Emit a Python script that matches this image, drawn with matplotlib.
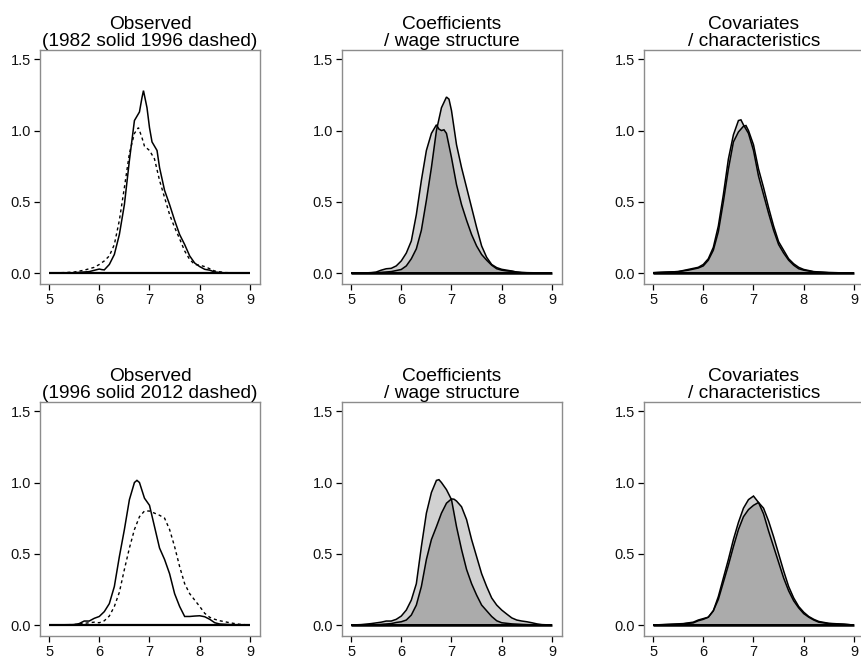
import numpy as np
import matplotlib
matplotlib.use('Agg')
import matplotlib.pyplot as plt

plt.rcParams['font.family'] = ['Liberation Sans', 'DejaVu Sans']

# --- data (log wage densities) ---
# row 1 : 1982 -> 1996
obs82_x = [5.0, 5.5, 5.8, 6.0, 6.05, 6.1, 6.2, 6.3, 6.4, 6.5, 6.6, 6.7, 6.75, 6.8, 6.85, 6.88, 6.95,
           7.0, 7.05, 7.1, 7.15, 7.2, 7.3, 7.4, 7.5, 7.6, 7.7, 7.8, 7.9, 8.0, 8.1, 8.2, 8.3, 8.5, 9.0]
obs82_y = [0, 0.002, 0.01, 0.028, 0.024, 0.022, 0.06, 0.13, 0.27, 0.48, 0.79, 1.07, 1.1, 1.13, 1.23, 1.28, 1.16,
           1.02, 0.92, 0.89, 0.86, 0.74, 0.58, 0.48, 0.37, 0.27, 0.20, 0.12, 0.07, 0.045, 0.026, 0.02, 0.007, 0.001, 0]
obs96a_x = [5.0, 5.3, 5.5, 5.7, 5.9, 6.0, 6.1, 6.2, 6.3, 6.4, 6.5, 6.6, 6.7, 6.78, 6.85, 6.9, 7.0, 7.1,
            7.2, 7.3, 7.4, 7.5, 7.6, 7.7, 7.8, 7.9, 8.0, 8.1, 8.2, 8.3, 8.5, 9.0]
obs96a_y = [0, 0.003, 0.007, 0.02, 0.04, 0.06, 0.085, 0.12, 0.2, 0.37, 0.6, 0.84, 0.98, 1.02, 0.95, 0.89, 0.86, 0.8,
            0.65, 0.53, 0.41, 0.32, 0.24, 0.155, 0.095, 0.06, 0.055, 0.045, 0.03, 0.014, 0.003, 0]

coef1a_x = [5.0, 5.3, 5.4, 5.5, 5.6, 5.7, 5.8, 5.9, 6.0, 6.1, 6.2, 6.3, 6.4, 6.5, 6.6, 6.7, 6.75, 6.8, 6.85,
            6.9, 7.0, 7.1, 7.2, 7.3, 7.4, 7.5, 7.6, 7.7, 7.8, 7.9, 8.0, 8.1, 8.2, 8.4, 9.0]
coef1a_y = [0, 0.001, 0.003, 0.007, 0.02, 0.03, 0.033, 0.05, 0.085, 0.14, 0.225, 0.41, 0.65, 0.86, 0.98, 1.04, 1.01, 1.0, 1.005,
            0.98, 0.81, 0.62, 0.48, 0.37, 0.27, 0.19, 0.13, 0.09, 0.055, 0.03, 0.02, 0.015, 0.012, 0.003, 0]
coef1b_x = [5.0, 5.5, 5.8, 6.0, 6.1, 6.2, 6.3, 6.4, 6.5, 6.6, 6.7, 6.8, 6.9, 6.95, 7.0, 7.1, 7.2, 7.3,
            7.4, 7.5, 7.6, 7.7, 7.8, 7.9, 8.0, 8.1, 8.2, 8.3, 8.5, 9.0]
coef1b_y = [0, 0.002, 0.01, 0.025, 0.05, 0.1, 0.17, 0.3, 0.51, 0.74, 1.0, 1.16, 1.235, 1.22, 1.14, 0.9, 0.74, 0.6,
            0.46, 0.32, 0.19, 0.11, 0.06, 0.038, 0.026, 0.02, 0.014, 0.006, 0.002, 0]

cov1a_x = [5.0, 5.1, 5.5, 5.7, 5.9, 6.0, 6.1, 6.2, 6.3, 6.4, 6.5, 6.6, 6.7, 6.75, 6.8, 6.9, 7.0, 7.1, 7.2,
           7.3, 7.4, 7.5, 7.6, 7.7, 7.8, 7.9, 8.0, 8.2, 8.5, 9.0]
cov1a_y = [0.002, 0.004, 0.01, 0.025, 0.04, 0.06, 0.1, 0.18, 0.33, 0.55, 0.8, 0.97, 1.07, 1.075, 1.04, 0.98, 0.86, 0.68, 0.55,
           0.42, 0.3, 0.2, 0.14, 0.09, 0.055, 0.03, 0.02, 0.008, 0.003, 0]
cov1b_x = [5.0, 5.5, 5.7, 5.9, 6.0, 6.1, 6.2, 6.3, 6.4, 6.5, 6.6, 6.7, 6.8, 6.85, 6.9, 7.0, 7.1, 7.2, 7.3,
           7.4, 7.5, 7.6, 7.7, 7.8, 7.9, 8.0, 8.2, 8.5, 9.0]
cov1b_y = [0.002, 0.01, 0.02, 0.035, 0.05, 0.09, 0.16, 0.29, 0.5, 0.73, 0.92, 0.99, 1.03, 1.035, 1.0, 0.9, 0.73, 0.6, 0.46,
           0.33, 0.22, 0.16, 0.1, 0.065, 0.04, 0.025, 0.01, 0.003, 0]

# row 2 : 1996 -> 2012
obs96b_x = [5.0, 5.5, 5.6, 5.7, 5.8, 5.9, 6.0, 6.1, 6.2, 6.3, 6.4, 6.5, 6.6, 6.7, 6.75, 6.8, 6.9, 7.0, 7.1,
            7.2, 7.3, 7.4, 7.5, 7.6, 7.7, 7.8, 7.9, 8.0, 8.1, 8.2, 8.3, 8.4, 8.6, 9.0]
obs96b_y = [0, 0.003, 0.01, 0.028, 0.028, 0.047, 0.06, 0.094, 0.15, 0.27, 0.48, 0.67, 0.88, 1.0, 1.015, 1.0, 0.89, 0.84, 0.69,
            0.54, 0.46, 0.36, 0.22, 0.13, 0.06, 0.06, 0.063, 0.065, 0.058, 0.04, 0.016, 0.007, 0.003, 0]
obs12_x = [5.0, 5.5, 5.7, 5.9, 6.0, 6.1, 6.2, 6.3, 6.4, 6.5, 6.6, 6.7, 6.8, 6.9, 7.0, 7.1, 7.2, 7.3, 7.4,
           7.5, 7.6, 7.7, 7.8, 7.9, 8.0, 8.1, 8.2, 8.3, 8.4, 8.5, 8.6, 8.7, 8.8, 9.0]
obs12_y = [0, 0.003, 0.012, 0.02, 0.016, 0.03, 0.063, 0.13, 0.23, 0.39, 0.54, 0.67, 0.76, 0.8, 0.8, 0.785, 0.77, 0.75, 0.67,
           0.55, 0.41, 0.29, 0.22, 0.175, 0.13, 0.082, 0.054, 0.04, 0.03, 0.023, 0.016, 0.01, 0.005, 0]

coef2a_x = [5.0, 5.2, 5.4, 5.6, 5.7, 5.8, 5.9, 6.0, 6.1, 6.2, 6.3, 6.4, 6.5, 6.6, 6.7, 6.75, 6.8, 6.9, 7.0,
            7.1, 7.2, 7.3, 7.4, 7.5, 7.6, 7.7, 7.8, 7.9, 8.0, 8.2, 8.5, 9.0]
coef2a_y = [0, 0.003, 0.01, 0.02, 0.028, 0.028, 0.04, 0.063, 0.105, 0.175, 0.29, 0.55, 0.785, 0.93, 1.015, 1.02, 1.0, 0.95, 0.88,
            0.69, 0.53, 0.39, 0.29, 0.21, 0.14, 0.1, 0.06, 0.03, 0.016, 0.008, 0.003, 0]
coef2b_x = [5.0, 5.5, 5.8, 5.9, 6.0, 6.1, 6.2, 6.3, 6.4, 6.5, 6.6, 6.7, 6.8, 6.9, 7.0, 7.05, 7.1, 7.2, 7.3,
            7.4, 7.5, 7.6, 7.7, 7.8, 7.9, 8.0, 8.1, 8.2, 8.3, 8.4, 8.5, 8.6, 8.7, 8.8, 9.0]
coef2b_y = [0, 0.002, 0.01, 0.018, 0.023, 0.035, 0.07, 0.14, 0.27, 0.46, 0.6, 0.69, 0.785, 0.855, 0.885, 0.883, 0.87, 0.83, 0.74,
            0.6, 0.48, 0.36, 0.27, 0.19, 0.14, 0.105, 0.077, 0.05, 0.035, 0.028, 0.023, 0.016, 0.008, 0.003, 0]

cov2a_x = [5.0, 5.3, 5.6, 5.8, 5.9, 6.0, 6.1, 6.2, 6.3, 6.4, 6.5, 6.6, 6.7, 6.8, 6.9, 7.0, 7.1, 7.2, 7.3,
           7.4, 7.5, 7.6, 7.7, 7.8, 7.9, 8.0, 8.1, 8.2, 8.3, 8.5, 8.8, 9.0]
cov2a_y = [0, 0.005, 0.01, 0.02, 0.035, 0.045, 0.055, 0.1, 0.2, 0.33, 0.46, 0.6, 0.72, 0.82, 0.88, 0.905, 0.86, 0.78, 0.66,
           0.55, 0.44, 0.33, 0.24, 0.17, 0.12, 0.08, 0.055, 0.035, 0.02, 0.01, 0.005, 0]
cov2b_x = [5.0, 5.5, 5.8, 5.9, 6.0, 6.1, 6.2, 6.3, 6.4, 6.5, 6.6, 6.7, 6.8, 6.9, 7.0, 7.1, 7.2, 7.3, 7.4,
           7.5, 7.6, 7.7, 7.8, 7.9, 8.0, 8.1, 8.2, 8.3, 8.5, 8.8, 9.0]
cov2b_y = [0, 0.005, 0.015, 0.03, 0.04, 0.055, 0.1, 0.18, 0.3, 0.42, 0.55, 0.67, 0.76, 0.81, 0.84, 0.86, 0.82, 0.73, 0.62,
           0.5, 0.38, 0.27, 0.19, 0.13, 0.09, 0.06, 0.04, 0.025, 0.012, 0.006, 0]

titles_top = ['Observed\n(1982 solid 1996 dashed)', 'Coefficients\n/ wage structure', 'Covariates\n/ characteristics']
titles_bot = ['Observed\n(1996 solid 2012 dashed)', 'Coefficients\n/ wage structure', 'Covariates\n/ characteristics']
xticks = [5, 6, 7, 8, 9]
yticks = [0.0, 0.5, 1.0, 1.5]

W, H = 861, 662
fig = plt.figure(figsize=(W / 100, H / 100), dpi=100)

lefts = [40, 342, 644]
tops = [50, 402]
pw, ph = 220, 234


def setup(ax, title):
    ax.set_xlim(4.82, 9.2)
    ax.set_ylim(-0.077, 1.565)
    ax.set_xticks(xticks)
    ax.set_yticks(yticks)
    ax.set_yticklabels(['%.1f' % v for v in yticks])
    for s in ax.spines.values():
        s.set_color('#8c8c8c')
        s.set_linewidth(1.0)
    ax.tick_params(direction='out', length=4.5, width=0.9, color='black',
                   labelsize=10.5, pad=2, labelcolor='#111111')
    ax.set_title(title, fontsize=13.8, pad=2, linespacing=1.0)


def observed(ax, xs, ys, xd, yd):
    ax.fill(xd, yd, facecolor='none', edgecolor='black', lw=1.0, linestyle=(0, (2.2, 2.2)))
    ax.fill(xs, ys, facecolor='none', edgecolor='black', lw=1.1)
    ax.plot([5, 9], [0, 0], color='black', lw=1.6, solid_capstyle='butt')


def decomp(ax, xa, ya, xb, yb):
    # two translucent grey polygons: overlap shows darker
    for x, y in [(xa, ya), (xb, yb)]:
        ax.fill(x, y, facecolor='black', alpha=0.18, edgecolor='none')
    for x, y in [(xa, ya), (xb, yb)]:
        ax.fill(x, y, facecolor='none', edgecolor='black', lw=1.1)
    ax.plot([5, 9], [0, 0], color='black', lw=1.8, solid_capstyle='butt')


panels = [
    [('obs', obs82_x, obs82_y, obs96a_x, obs96a_y),
     ('dec', coef1a_x, coef1a_y, coef1b_x, coef1b_y),
     ('dec', cov1a_x, cov1a_y, cov1b_x, cov1b_y)],
    [('obs', obs96b_x, obs96b_y, obs12_x, obs12_y),
     ('dec', coef2a_x, coef2a_y, coef2b_x, coef2b_y),
     ('dec', cov2a_x, cov2a_y, cov2b_x, cov2b_y)],
]
titles = [titles_top, titles_bot]

for r in range(2):
    for c in range(3):
        ax = fig.add_axes([lefts[c] / W, (H - tops[r] - ph) / H, pw / W, ph / H])
        kind, xa, ya, xb, yb = panels[r][c]
        if kind == 'obs':
            observed(ax, xa, ya, xb, yb)
        else:
            decomp(ax, xa, ya, xb, yb)
        setup(ax, titles[r][c])

fig.savefig('out.png', dpi=100)
